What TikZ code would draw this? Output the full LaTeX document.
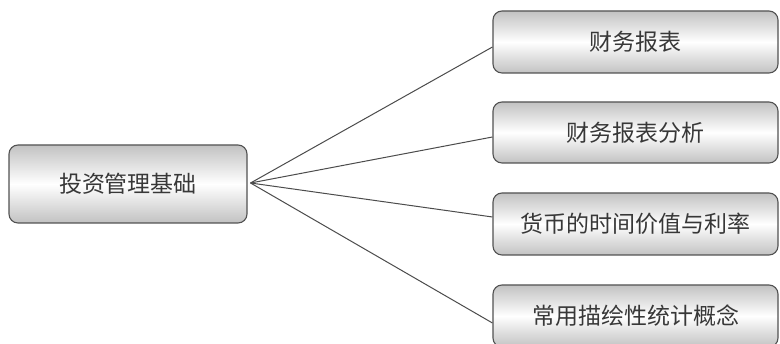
\documentclass[tikz,border=0pt]{standalone}
\usepackage{fontspec}
\newfontfamily\cjk{Noto Sans CJK SC}
\begin{document}
\begin{tikzpicture}[x=1pt,y=1pt,
  box/.style={draw=black!68, line width=1.1pt, rounded corners=9pt,
    top color=black!24, bottom color=black!24, middle color=white,
    font=\cjk\fontsize{23}{26}\selectfont, text=black!78, inner sep=0pt},
  leaf/.style={box, minimum width=285pt, minimum height=62pt},
  link/.style={draw=black!70, line width=1pt}]
\clip (0,0) rectangle (780,344);
\fill[white] (0,0) rectangle (780,344);
\node[box, minimum width=238pt, minimum height=78pt] (root) at (128,160) {投资管理基础};
\node[leaf] (n1) at (635.5,302) {财务报表};
\node[leaf, minimum height=61pt] (n2) at (635.5,211.5) {财务报表分析};
\node[leaf] (n3) at (635.5,120) {货币的时间价值与利率};
\node[leaf] (n4) at (635.5,28) {常用描绘性统计概念};
\coordinate (hub) at ([xshift=3pt,yshift=1pt]root.east);
\draw[link] (hub) -- ([yshift=-5pt]n1.west);
\draw[link] (hub) -- ([yshift=-4.5pt]n2.west);
\draw[link] (hub) -- ([yshift=7pt]n3.west);
\draw[link] (hub) -- ([yshift=-7pt]n4.west);
\end{tikzpicture}
\end{document}
